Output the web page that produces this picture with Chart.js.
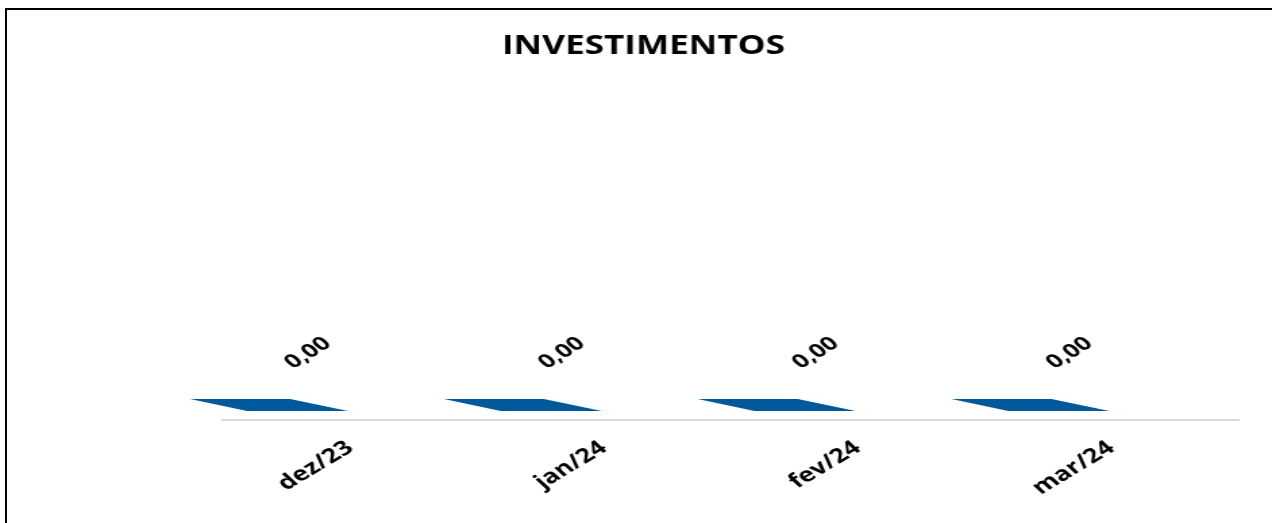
<!DOCTYPE html>
<html>
<head>
<meta charset="utf-8">
<script src="https://cdn.jsdelivr.net/npm/chart.js@4.4.0/dist/chart.umd.min.js"></script>
<style>
    body { margin: 0; background: #fff; overflow: hidden; }
    #frame {
        position: absolute; left: 5px; top: 8px; width: 1400px; height: 600px;
        border-top: 2px solid #000; border-left: 2px solid #000;
    }
    #wrap {
        position: absolute; left: 0; top: 0; width: 942px; height: 523px;
        transform: scaleX(1.3503); transform-origin: 0 0;
    }
</style>
</head>
<body>
<div id="frame"></div>
<div id="wrap"><canvas id="grafico"></canvas></div>
<script>
const categories = ['dez/23', 'jan/24', 'fev/24', 'mar/24'];
const investimentos = [0, 0, 0, 0];
const titulo = 'INVESTIMENTOS';

const fmt = function (v) {
    return v.toFixed(2).replace('.', ',');
};

// bar top drawn as a flat 3d face, plus the rotated value label
const bar3d = {
    id: 'bar3d',
    afterDatasetsDraw(chart) {
        const ctx = chart.ctx;
        const meta = chart.getDatasetMeta(0);
        const xs = chart.scales.x;
        const w = xs.width / categories.length;
        meta.data.forEach(function (bar, i) {
            const c = bar.x;
            const top = bar.y;
            const base = bar.base;
            ctx.save();
            ctx.fillStyle = '#00599b';
            // front face (empty when the value is zero)
            if (base - top > 0) {
                ctx.fillRect(c - 0.406 * w, top - 9, 0.398 * w, base - top);
            }
            ctx.beginPath();
            ctx.moveTo(c - 0.630 * w, top - 21);
            ctx.lineTo(c - 0.236 * w, top - 21);
            ctx.lineTo(c - 0.008 * w, top - 9);
            ctx.lineTo(c - 0.406 * w, top - 9);
            ctx.closePath();
            ctx.fill();

            ctx.translate(c - 0.165 * w, top - 67);
            ctx.rotate(-40 * Math.PI / 180);
            ctx.fillStyle = '#000';
            ctx.font = 'bold 19px "Open Sans"';
            ctx.textAlign = 'center';
            ctx.textBaseline = 'middle';
            ctx.fillText(fmt(investimentos[i]), 0, 0);
            ctx.restore();
        });
    }
};

new Chart(document.getElementById('grafico').getContext('2d'), {
    type: 'bar',
    data: {
        labels: categories,
        datasets: [{
            label: titulo,
            data: investimentos,
            backgroundColor: 'rgba(0,0,0,0)',
        }]
    },
    options: {
        responsive: true,
        maintainAspectRatio: false,
        animation: false,
        layout: { padding: { left: 36, right: 25, top: 0, bottom: 0 } },
        plugins: {
            legend: { display: false },
            tooltip: { enabled: false },
            title: {
                display: true,
                text: titulo,
                color: '#000',
                font: { family: 'Open Sans', size: 26, weight: 'bold' },
                padding: { top: 31, bottom: 10 }
            }
        },
        scales: {
            x: {
                grid: { display: false, drawTicks: false },
                border: { display: true, color: '#d9d9d9', width: 2 },
                ticks: {
                    color: '#000',
                    font: { family: 'Open Sans', size: 20, weight: 'bold' },
                    minRotation: 39,
                    maxRotation: 39,
                    padding: 16
                },
                afterFit: function (s) { s.height = 103; }
            },
            y: {
                min: 0,
                max: 1,
                grid: { display: false },
                border: { display: false },
                ticks: { display: false },
                afterFit: function (s) { s.width = 129.2; }
            }
        }
    },
    plugins: [bar3d]
});
</script>
</body>
</html>
